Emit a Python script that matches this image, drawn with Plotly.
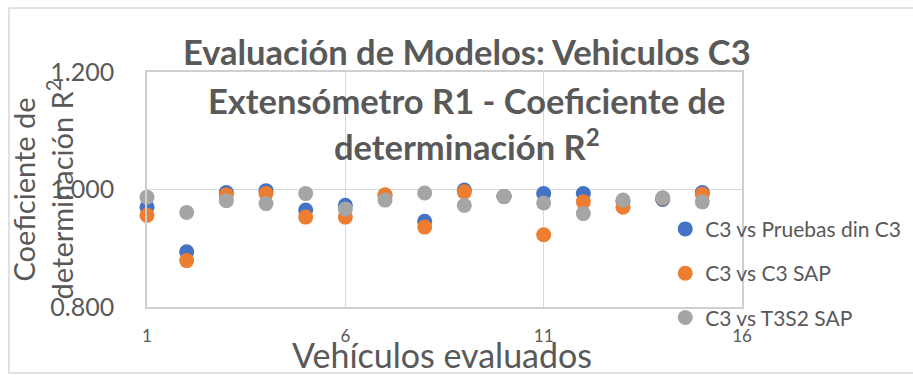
import plotly.graph_objects as go

# Vehicle index on the horizontal axis
vehiculos = list(range(1, 16))

# Coefficient of determination R² for each comparison
r2_pruebas_din = [0.970, 0.894, 0.995, 0.998, 0.965, 0.973, 0.990, 0.946,
                  0.999, 0.988, 0.993, 0.993, 0.980, 0.983, 0.995]
r2_c3_sap = [0.956, 0.879, 0.991, 0.993, 0.953, 0.953, 0.991, 0.936,
             0.996, 0.988, 0.923, 0.979, 0.970, 0.985, 0.992]
r2_t3s2_sap = [0.987, 0.961, 0.981, 0.976, 0.993, 0.967, 0.982, 0.994,
               0.973, 0.988, 0.977, 0.959, 0.982, 0.986, 0.979]

series_names = ["C3 vs Pruebas din C3", "C3 vs C3 SAP", "C3 vs T3S2 SAP"]
series_colors = ["#4472C4", "#ED7D31", "#A5A5A5"]
x_ticks = [1, 6, 11, 16]
y_ticks = [0.8, 1.0, 1.2]

FONT = "Lato"
TEXT = "#595959"
GRID = "#D9D9D9"

fig = go.Figure()
for name, vals, color in zip(series_names, [r2_pruebas_din, r2_c3_sap, r2_t3s2_sap], series_colors):
    fig.add_trace(go.Scatter(
        x=vehiculos, y=vals, mode="markers", name=name, legendgroup=name,
        marker=dict(color=color, size=15, line=dict(width=0)),
        cliponaxis=False,
    ))

fig.update_layout(
    width=913, height=375,
    margin=dict(l=147, r=171, t=72, b=68, autoexpand=False),
    paper_bgcolor="white", plot_bgcolor="rgba(0,0,0,0)",
    font=dict(family=FONT, color=TEXT),
    showlegend=True,
    legend=dict(
        x=0.871, y=0.418, xanchor="left", yanchor="top",
        bgcolor="rgba(0,0,0,0)", font=dict(size=21, color=TEXT, family=FONT),
        tracegroupgap=14, itemsizing="trace",
    ),
)

# Axis lines mirrored so the plot area is boxed on all four sides
fig.update_xaxes(
    range=[1, 16], tickvals=x_ticks, ticktext=[str(v) for v in x_ticks],
    showgrid=True, gridcolor=GRID, gridwidth=1,
    showline=True, linecolor="#CFCFCF", linewidth=1.5, mirror=True,
    zeroline=False, ticks="", tickfont=dict(size=17, color=TEXT),
    ticklabelstandoff=13,
)
fig.update_yaxes(
    range=[0.8, 1.2], tickvals=y_ticks, tickformat=".3f",
    showgrid=True, gridcolor=GRID, gridwidth=1,
    showline=True, linecolor="#CFCFCF", linewidth=1.5, mirror=True,
    zeroline=False, ticks="", tickfont=dict(size=25, color=TEXT),
    ticklabelstandoff=26,
)

# Outer chart frame
fig.add_shape(type="rect", xref="paper", yref="paper",
              x0=-0.232, x1=1.32, y0=-0.281, y1=1.272,
              line=dict(color=GRID, width=1.5), layer="below")

# Title lines
title_lines = [
    ("Evaluación de Modelos: Vehiculos C3", 1.087),
    ("Extensómetro R1 - Coeficiente de", 0.88),
    ("determinación R<sup>2</sup>", 0.69),
]
for txt, yy in title_lines:
    fig.add_annotation(text="<b>" + txt + "</b>", xref="paper", yref="paper",
                       x=0.538, y=yy, xanchor="center", yanchor="middle",
                       showarrow=False, font=dict(size=34.5, color=TEXT, family=FONT))

# Axis titles
fig.add_annotation(text="Coeficiente de<br>determinación R<sup>2</sup>",
                   xref="paper", yref="paper", x=-0.175, y=0.5,
                   xanchor="center", yanchor="middle", textangle=-90,
                   showarrow=False, font=dict(size=29, color=TEXT, family=FONT))
fig.add_annotation(text="Vehículos evaluados", xref="paper", yref="paper",
                   x=0.496, y=-0.2, xanchor="center", yanchor="middle",
                   showarrow=False, font=dict(size=34, color=TEXT, family=FONT))

fig.write_html("out.html")
